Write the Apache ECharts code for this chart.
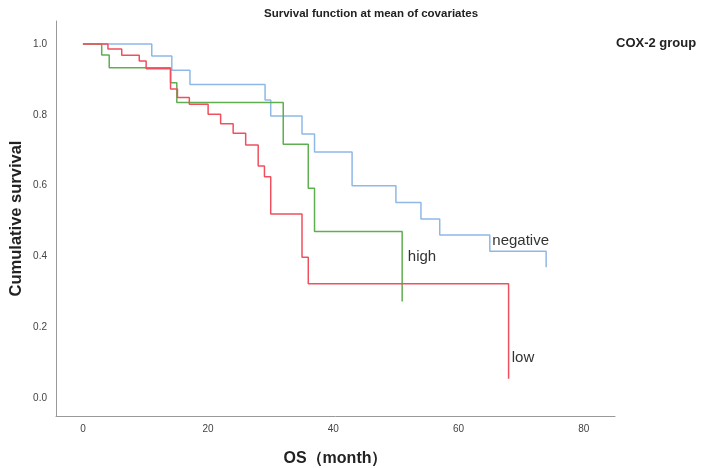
<!DOCTYPE html>
<html>
<head>
<meta charset="utf-8">
<script src="https://cdn.jsdelivr.net/npm/echarts@6/dist/echarts.min.js"></script>
<style>html,body{margin:0;padding:0;background:#fff}#c{width:712px;height:468px}</style>
</head>
<body>
<div id="c"></div>
<script>
// Step survival curves (time in months, cumulative survival)
const negTimes = [0, 11, 14.2, 17.1, 29.1, 30, 35, 37, 43, 50, 54, 57, 65, 74];
const negSurv  = [1, 0.966, 0.926, 0.886, 0.842, 0.797, 0.746, 0.695, 0.6, 0.553, 0.506, 0.461, 0.415, 0.37];
const highTimes = [0, 3, 4.2, 14, 15, 32, 36, 37, 51];
const highSurv  = [1, 0.969, 0.933, 0.891, 0.835, 0.717, 0.593, 0.471, 0.273];
const lowTimes = [0, 4, 6.2, 9, 10.1, 14, 15.1, 17, 20, 22, 24, 26, 28, 29, 30, 35, 36, 68];
const lowSurv  = [1, 0.986, 0.968, 0.952, 0.93, 0.873, 0.849, 0.83, 0.802, 0.775, 0.748, 0.715, 0.656, 0.625, 0.52, 0.398, 0.323, 0.055];
const xTicks = [0, 20, 40, 60, 80];
const yTicks = [0, 0.2, 0.4, 0.6, 0.8, 1.0];
const groupNames = ['negative', 'high', 'low'];

function pairs(t, s) { return t.map((v, i) => [v, s[i]]); }

const chart = echarts.init(document.getElementById('c'), null, {renderer: 'canvas'});
const FONT = '"Liberation Sans", Arial, sans-serif';

function curve(name, t, s, color, labelCoord) {
  return {
    name: name, type: 'line', step: 'end', data: pairs(t, s),
    showSymbol: false, symbol: 'none', animation: false,
    lineStyle: {color: color, width: 1.5},
    itemStyle: {color: color},
    markPoint: {
      symbol: 'circle', symbolSize: 0, animation: false,
      label: {show: true, position: 'right', distance: 0, formatter: name,
              color: '#333', fontSize: 15, fontFamily: FONT},
      data: [{coord: labelCoord}]
    }
  };
}

chart.setOption({
  backgroundColor: '#fff',
  animation: false,
  title: {
    text: 'Survival function at mean of covariates',
    left: 259, top: 3,
    textStyle: {fontSize: 11.5, fontWeight: 'bold', color: '#222', fontFamily: FONT}
  },
  graphic: [{
    type: 'text', left: 616, top: 37,
    style: {text: 'COX-2 group', fill: '#222', font: 'bold 13px "Liberation Sans", Arial, sans-serif'}
  }],
  grid: {left: 56, right: 97, top: 21, bottom: 52, outerBoundsMode: 'none', containLabel: false},
  xAxis: {
    type: 'value', min: -4.3, max: 85,
    name: 'OS（month）', nameLocation: 'middle', nameGap: 35, nameMoveOverlap: false,
    nameTextStyle: {fontSize: 16, fontWeight: 'bold', color: '#222', fontFamily: FONT},
    axisLine: {show: true, onZero: false, lineStyle: {color: '#999', width: 1}},
    axisTick: {show: false},
    splitLine: {show: false},
    axisLabel: {customValues: xTicks, color: '#444', fontSize: 10, fontFamily: FONT, margin: 8}
  },
  yAxis: {
    type: 'value', min: -0.05, max: 1.065,
    name: 'Cumulative survival', nameLocation: 'middle', nameGap: 31, nameRotate: 90, nameMoveOverlap: false,
    nameTextStyle: {fontSize: 16.5, fontWeight: 'bold', color: '#222', fontFamily: FONT},
    axisLine: {show: true, onZero: false, lineStyle: {color: '#999', width: 1}},
    axisTick: {show: false},
    splitLine: {show: false},
    axisLabel: {customValues: yTicks, color: '#444', fontSize: 10, fontFamily: FONT, margin: 9,
                formatter: v => v.toFixed(1)}
  },
  series: [
    curve(groupNames[0], negTimes, negSurv, '#8fb8e6', [65.4, 0.445]),
    curve(groupNames[1], highTimes, highSurv, '#5fae4f', [51.9, 0.4]),
    curve(groupNames[2], lowTimes, lowSurv, '#f0505e', [68.5, 0.113])
  ]
});
</script>
</body>
</html>
